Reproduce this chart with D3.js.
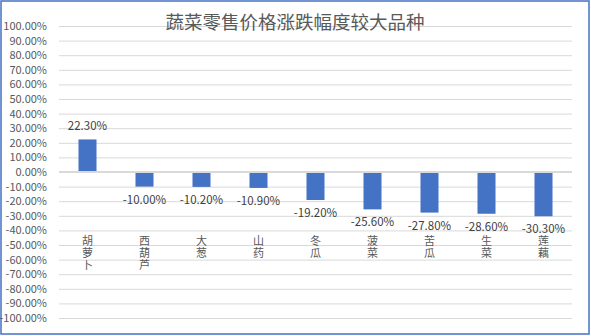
<!DOCTYPE html>
<html><head><meta charset="utf-8">
<script src="https://cdn.jsdelivr.net/npm/d3@7"></script>
<style>body{margin:0;background:#fff}svg{display:block}</style>
</head><body>
<svg id="c" width="591" height="336"></svg>
<script>
const categories = ["胡萝卜","西葫芦","大葱","山药","冬瓜","菠菜","苦瓜","生菜","莲藕"];
const values = [22.3,-10.0,-10.2,-10.9,-19.2,-25.6,-27.8,-28.6,-30.3];
const tickValues = d3.range(-100,101,10);
const title = "蔬菜零售价格涨跌幅度较大品种";

const svg = d3.select("#c");
const font = "'Microsoft YaHei','Noto Sans CJK SC','DejaVu Sans',sans-serif";
svg.append("rect").attr("x",1).attr("y",1).attr("width",588).attr("height",333)
  .attr("fill","#fff").attr("stroke","#4472C4").attr("stroke-width",1.5);

const pLeft=59, pRight=572, pTop=26, pBottom=318;
const x = d3.scaleBand().domain(categories).range([pLeft,pRight]).paddingInner(0.684).paddingOuter(0.342);
const y = d3.scaleLinear().domain([-100,100]).range([pBottom,pTop]);

const yAxis = d3.axisLeft(y).tickValues(tickValues).tickSize(-(pRight-pLeft)).tickFormat(d=>d.toFixed(2)+"%");
const g = svg.append("g").attr("transform",`translate(${pLeft},0)`).call(yAxis);
g.select(".domain").remove();
g.selectAll(".tick line").attr("stroke","#d9d9d9").attr("stroke-width",1);
g.selectAll(".tick text").attr("x",-12).attr("fill","#595959").style("font-size","11px").style("font-family",font);

svg.append("text").attr("x",295).attr("y",29).attr("text-anchor","middle")
  .attr("fill","#595959").style("font-size","18.5px").style("font-family",font).text(title);

svg.selectAll("rect.bar").data(values).join("rect").attr("class","bar")
  .attr("x",(d,i)=>x(categories[i])).attr("width",x.bandwidth())
  .attr("y",d=>y(Math.max(0,d))).attr("height",d=>Math.abs(y(d)-y(0)))
  .attr("fill","#4472C4");

svg.append("line").attr("x1",pLeft).attr("x2",pRight).attr("y1",y(0)).attr("y2",y(0))
  .attr("stroke","#d9d9d9").attr("stroke-width",2);

svg.selectAll("text.lbl").data(values).join("text").attr("class","lbl")
  .attr("x",(d,i)=>x(categories[i])+x.bandwidth()/2)
  .attr("y",d=> d>=0 ? y(d)-9 : y(d)+17)
  .attr("text-anchor","middle").attr("fill","#404040")
  .style("font-size","11.5px").style("font-family",font)
  .text(d=>d.toFixed(2)+"%");

categories.forEach((c,i)=>{
  const t = svg.append("text").attr("text-anchor","middle").attr("fill","#595959")
    .style("font-size","11px").style("font-family",font);
  [...c].forEach((ch,j)=>{
    t.append("tspan").attr("x",x(c)+x.bandwidth()/2).attr("y",245+j*12).text(ch);
  });
});
</script>
</body></html>
